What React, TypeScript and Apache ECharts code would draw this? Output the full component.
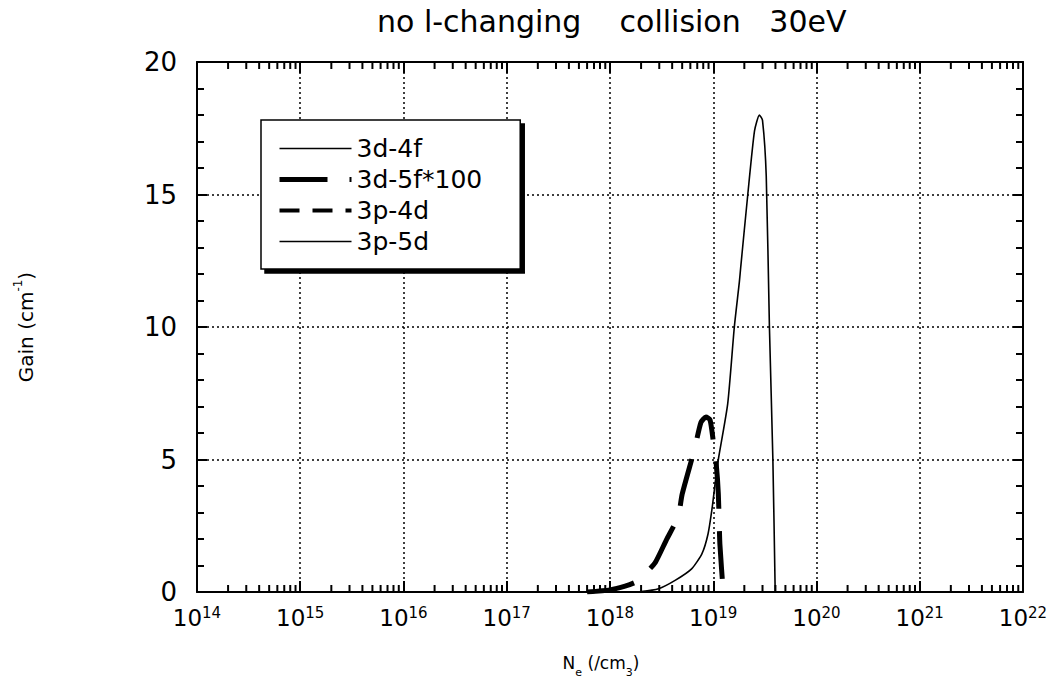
import React, { useEffect, useRef } from "react";
import * as echarts from "echarts";

const titleText = "no l-changing    collision   30eV";
const legendNames = ["3d-4f", "3d-5f*100", "3p-4d", "3p-5d"];
const xMin = 1e14;
const xMax = 1e22;
const yMin = 0;
const yMax = 20;
const yInterval = 5;
const decadeExponents = [14, 15, 16, 17, 18, 19, 20, 21];
const minorMultipliers = [2, 3, 4, 5, 6, 7, 8, 9];

// 3p-5d (thin solid)
const density3p5d = [1.5e18, 2.0e18, 2.95e18, 4.27e18, 6.17e18, 7.76e18, 8.9e18, 9.77e18, 1.05e19, 1.12e19, 1.38e19, 1.6e19, 1.79e19, 1.85e19, 2.16e19, 2.51e19, 2.8e19, 3.0e19, 3.26e19, 3.5e19, 3.78e19, 3.98e19];
const gain3p5d = [0, 0.02, 0.125, 0.44, 0.875, 1.44, 2.19, 3.19, 4.19, 5.0, 7.1, 10.0, 11.7, 12.3, 15.0, 17.4, 18.0, 17.8, 15.7, 10.0, 5.0, 0];

// 3d-5f*100 (thick long dash)
const density3d5f = [6.0e17, 1.0e18, 1.4e18, 1.78e18, 2.2e18, 2.75e18, 3.5e18, 4.57e18, 5.0e18, 6.6e18, 7.6e18, 8.5e18, 9.3e18, 1.0e19, 1.07e19, 1.12e19, 1.16e19, 1.25e19];
const gain3d5f = [0, 0.08, 0.22, 0.38, 0.7, 1.12, 1.95, 2.84, 3.69, 5.4, 6.4, 6.6, 6.5, 5.7, 4.8, 3.7, 1.8, 0];

// 3d-4f and 3p-4d: not visible above the baseline
const density3d4f: number[] = [];
const gain3d4f: number[] = [];
const density3p4d: number[] = [];
const gain3p4d: number[] = [];

const FONT = "DejaVu Sans";

const styles: Record<string, { width: number; type: any }> = {
  "3d-4f": { width: 1.6, type: "solid" },
  "3d-5f*100": { width: 5, type: [48, 22] },
  "3p-4d": { width: 4, type: [20, 13] },
  "3p-5d": { width: 1.6, type: "solid" },
};

function pairs(xs: number[], ys: number[]) {
  return xs.map((x, i) => [x, ys[i]]);
}

export default function App() {
  const ref = useRef<HTMLDivElement>(null);
  useEffect(() => {
    const chart = echarts.init(ref.current!, null, { renderer: "svg" });
    const minorTicks: number[][] = [];
    decadeExponents.forEach((d) =>
      minorMultipliers.forEach((m) => minorTicks.push([m * Math.pow(10, d), 0]))
    );
    const dotted = { type: [2, 3] as any, color: "#000", width: 1.5 };
    const axisLine = { show: true, onZero: false, lineStyle: { color: "#000", width: 2 } };
    const tickStyle = { color: "#000", width: 2 };
    const lineSeries = (name: string, xs: number[], ys: number[]) => ({
      name,
      type: "line",
      data: pairs(xs, ys),
      symbol: "none",
      showSymbol: false,
      smooth: 0.2,
      z: 4,
      lineStyle: { color: "#000", width: styles[name].width, type: styles[name].type, cap: "butt" },
      itemStyle: { color: "#000" },
    });
    chart.setOption({
      animation: false,
      backgroundColor: "#fff",
      title: {
        text: titleText,
        left: 372,
        top: 1,
        textStyle: { fontFamily: FONT, fontSize: 30, fontWeight: "normal", color: "#000" },
      },
      legend: {
        data: legendNames.map((n) => ({
          name: n,
          lineStyle: { width: styles[n].width, type: styles[n].type, color: "#000" },
          itemStyle: { opacity: 0 },
        })),
        orient: "vertical",
        left: 261,
        top: 120,
        padding: [16, 38, 15, 16],
        itemGap: 6,
        itemWidth: 72,
        itemHeight: 14,
        backgroundColor: "#fff",
        borderColor: "#000",
        borderWidth: 1.5,
        borderRadius: 0,
        shadowColor: "#000",
        shadowBlur: 0,
        shadowOffsetX: 4,
        shadowOffsetY: 4,
        selectedMode: false,
        z: 6,
        itemStyle: { opacity: 0 },
        textStyle: { fontFamily: FONT, fontSize: 25, color: "#000", lineHeight: 24 },
      },
      grid: { left: 197, right: 38, top: 62, bottom: 104 },
      xAxis: [
        {
          type: "log",
          logBase: 10,
          min: xMin,
          max: xMax,
          position: "bottom",
          axisLine,
          axisTick: { show: true, inside: true, length: 11, lineStyle: tickStyle },
          axisLabel: {
            margin: 13,
            formatter: (v: number) => `{b|10}{s|${Math.round(Math.log10(v))}}`,
            rich: {
              b: { fontFamily: FONT, fontSize: 23, color: "#000", lineHeight: 26 },
              s: { fontFamily: FONT, fontSize: 15, color: "#000", lineHeight: 16, verticalAlign: "top" },
            },
          },
          splitLine: { show: true, lineStyle: dotted },
          name: "{n|N}{e|e}{n| (/cm}{e|3}{n|)}",
          nameLocation: "middle",
          nameGap: 62,
          nameTextStyle: {
            padding: [0, 18, 0, 0],
            rich: {
              n: { fontFamily: FONT, fontSize: 17, color: "#000", lineHeight: 24, verticalAlign: "top" },
              e: { fontFamily: FONT, fontSize: 11, color: "#000", lineHeight: 12, verticalAlign: "bottom" },
            },
          },
        },
        {
          type: "log",
          logBase: 10,
          min: xMin,
          max: xMax,
          position: "top",
          axisLine,
          axisTick: { show: true, inside: true, length: 11, lineStyle: tickStyle },
          axisLabel: { show: false },
          splitLine: { show: false },
        },
      ],
      yAxis: [
        {
          type: "value",
          min: yMin,
          max: yMax,
          interval: yInterval,
          position: "left",
          axisLine,
          axisTick: { show: true, inside: true, length: 10, lineStyle: tickStyle },
          minorTick: { show: true, splitNumber: 5, length: 7, lineStyle: tickStyle },
          axisLabel: { fontFamily: FONT, fontSize: 26, color: "#000", margin: 20 },
          splitLine: { show: true, lineStyle: dotted },
          name: "{a|Gain (cm}{s|-1}{a|)}",
          nameLocation: "middle",
          nameGap: 161,
          nameRotate: 90,
          nameTextStyle: {
            rich: {
              a: { fontFamily: FONT, fontSize: 20, color: "#000", lineHeight: 24, verticalAlign: "bottom" },
              s: { fontFamily: FONT, fontSize: 12, color: "#000", lineHeight: 12, verticalAlign: "top" },
            },
          },
        },
        {
          type: "value",
          min: yMin,
          max: yMax,
          interval: yInterval,
          position: "right",
          axisLine,
          axisTick: { show: true, inside: true, length: 10, lineStyle: tickStyle },
          minorTick: { show: true, splitNumber: 5, length: 7, lineStyle: tickStyle },
          axisLabel: { show: false },
          splitLine: { show: false },
        },
      ],
      series: [
        lineSeries("3d-4f", density3d4f, gain3d4f),
        lineSeries("3d-5f*100", density3d5f, gain3d5f),
        lineSeries("3p-4d", density3p4d, gain3p4d),
        lineSeries("3p-5d", density3p5d, gain3p5d),
        {
          name: "minor-ticks",
          type: "custom",
          data: minorTicks,
          silent: true,
          clip: false,
          z: 5,
          renderItem: (_p: any, api: any) => {
            const x = api.value(0);
            const b = api.coord([x, yMin]);
            const t = api.coord([x, yMax]);
            return {
              type: "group",
              children: [
                { type: "line", shape: { x1: b[0], y1: b[1], x2: b[0], y2: b[1] - 7 }, style: { stroke: "#000", lineWidth: 2 } },
                { type: "line", shape: { x1: t[0], y1: t[1], x2: t[0], y2: t[1] + 7 }, style: { stroke: "#000", lineWidth: 2 } },
              ],
            };
          },
        },
      ],
    });
    return () => chart.dispose();
  }, []);
  return <div ref={ref} style={{ position: "fixed", left: 0, top: 0, width: 1061, height: 696 }} />;
}
